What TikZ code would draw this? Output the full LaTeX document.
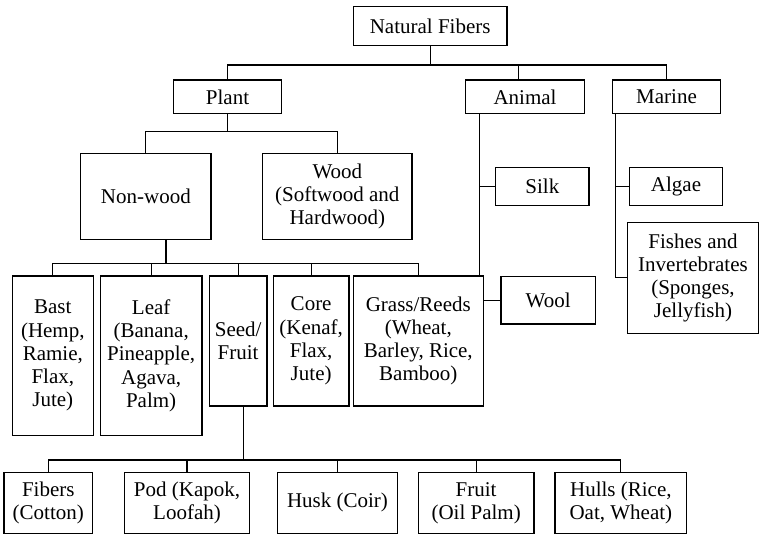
\documentclass[tikz,border=0pt]{standalone}
\usepackage{fontspec}
\setmainfont{Liberation Serif}
\usetikzlibrary{calc}

% Box given by its left, top, right and bottom edges (in px-like units)
\newcommand\fibbox[6]{%
  \node[box, minimum width={(#4-#2)*0.75pt}, minimum height={(#5-#3)*0.75pt}]
    (#1) at ({(#2+#4)/2},{(#3+#5)/2}) {#6};}

\begin{document}
\begin{tikzpicture}[x=0.75pt, y=-0.75pt,
  box/.style={draw, fill=white, line width=0.9pt, inner sep=0pt, align=center,
              font=\fontsize{15.75}{17.4}\selectfont},
  link/.style={draw, line width=0.9pt}]
\useasboundingbox (0,0) rectangle (760,536);

% ---- level 0 and 1
\fibbox{nf}{353.3}{6.7}{507}{45.3}{Natural Fibers}
\fibbox{plant}{173.3}{80}{281.7}{113.7}{Plant}
\fibbox{animal}{465.7}{80}{584.3}{113.7}{Animal}
\fibbox{marine}{612.7}{80}{720.3}{113.7}{Marine}

% ---- plant branch
\fibbox{nonwood}{80.7}{153.3}{211}{239.3}{Non-wood}
\fibbox{wood}{262.7}{153.3}{412}{239.3}{Wood\\(Softwood and\\Hardwood)}

% ---- animal and marine children
\fibbox{silk}{495.7}{167.3}{589}{205.3}{Silk}
\fibbox{wool}{501}{276.7}{595.3}{324}{Wool}
\fibbox{algae}{629.3}{167.3}{722.7}{205.3}{Algae}
\fibbox{fishes}{627.5}{222.3}{758.5}{333.3}{Fishes and\\Invertebrates\\(Sponges,\\Jellyfish)}

% ---- non-wood children
\fibbox{bast}{12.3}{276}{93.3}{435.5}{Bast\\(Hemp,\\Ramie,\\Flax,\\Jute)}
\fibbox{leaf}{100.3}{276}{202}{435.5}{Leaf\\(Banana,\\Pineapple,\\Agava,\\Palm)}
\fibbox{seed}{209.3}{276}{267}{406}{Seed/\\Fruit}
\fibbox{core}{273.3}{276}{349}{406}{Core\\(Kenaf,\\Flax,\\Jute)}
\fibbox{grass}{353.3}{276}{483.3}{406}{Grass/Reeds\\(Wheat,\\Barley, Rice,\\Bamboo)}

% ---- seed/fruit children
\fibbox{fibers}{4}{472.3}{92.6}{533.5}{Fibers\\(Cotton)}
\fibbox{pod}{124.7}{472.3}{249.3}{533.5}{Pod (Kapok,\\Loofah)}
\fibbox{husk}{277.7}{472.3}{397.3}{533.5}{Husk (Coir)}
\fibbox{fruit}{418.3}{472.3}{534}{533.5}{Fruit\\(Oil Palm)}
\fibbox{hulls}{555}{472.3}{686.7}{533.5}{Hulls (Rice,\\Oat, Wheat)}

% ---- connector guide positions
\coordinate (topbus) at (0,65);
\coordinate (adrop) at (518.3,65);
\coordinate (plantbus) at (0,131.7);
\coordinate (aspine) at (479.3,0);
\coordinate (mspine) at (615.7,0);
\coordinate (nwdrop) at (166,263.3);
\coordinate (sdrop) at (243.3,460);

% ---- top level
\path[link] (nf.south) -- (nf.south |- topbus);
\path[link] (plant.north) -- (plant.north |- topbus) -- (marine.north |- topbus) -- (marine.north);
\path[link] (adrop) -- (adrop |- animal.north);

% ---- plant
\path[link] (plant.south) -- (plant.south |- plantbus);
\path[link] (nonwood.north) -- (nonwood.north |- plantbus) -- (wood.north |- plantbus) -- (wood.north);

% ---- animal
\path[link] (aspine |- animal.south) -- (aspine |- grass.north);
\path[link] (silk.west) -- (silk.west -| aspine);
\path[link] (wool.west) -- (wool.west -| grass.east);

% ---- marine
\path[link] (mspine |- marine.south) -- (mspine |- fishes.west) -- (fishes.west);
\path[link] (algae.west) -- (algae.west -| mspine);

% ---- non-wood
\path[link] (nwdrop |- nonwood.south) -- (nwdrop);
\path[link] (bast.north) -- (bast.north |- nwdrop) -- (grass.north |- nwdrop) -- (grass.north);
\path[link] (leaf.north) -- (leaf.north |- nwdrop);
\path[link] (seed.north) -- (seed.north |- nwdrop);
\path[link] (core.north) -- (core.north |- nwdrop);

% ---- seed/fruit
\path[link] (sdrop |- seed.south) -- (sdrop);
\path[link] (fibers.north) -- (fibers.north |- sdrop) -- (hulls.north |- sdrop) -- (hulls.north);
\path[link] (pod.north) -- (pod.north |- sdrop);
\path[link] (husk.north) -- (husk.north |- sdrop);
\path[link] (fruit.north) -- (fruit.north |- sdrop);
\end{tikzpicture}
\end{document}
